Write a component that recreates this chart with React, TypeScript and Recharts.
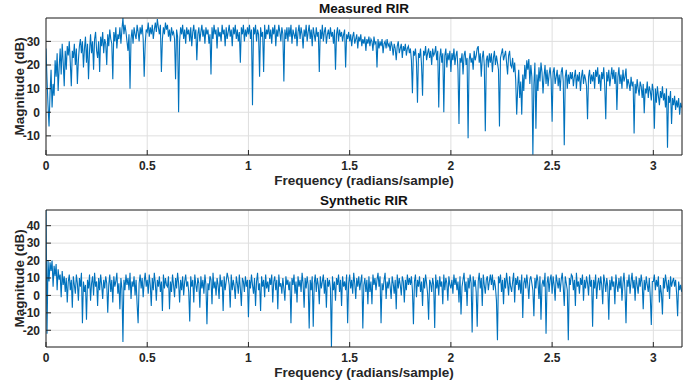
import { CartesianGrid, Line, LineChart, XAxis, YAxis } from 'recharts'

// frequency grid of both responses: 0 .. 3.14 rad/sample, 0.005 apart
const FREQ_STEP = 0.005

// magnitude of the measured room impulse response (dB), one row per 0.1 rad
const measuredDb = [
  27, 14, 3, -6, 8, 18, 2, 12, 7, 22, 15, 25, 9, 19, 27, 16, 29, 21, 11, 26,
  18, 28, 24, 30, 21, 11, 26, 23, 29, 20, 27, 12, 22, 28, 31, 25, 30, 19, 27, 32,
  21, 29, 14, 26, 33, 25, 30, 18, 31, 34, 26, 23, 30, 17, 32, 28, 34, 25, 31, 29,
  20, 33, 28, 35, 31, 29, 14, 34, 30, 36, 27, 33, 31, 36, 29, 35, 39.9, 33, 37, 34,
  30, 26, 33, 10, 31, 35, 29, 36, 33, 31, 37, 34, 30, 36, 33, 37, 31, 15, 29, 35,
  34, 38, 32, 36, 33, 37, 31, 35, 38, 34, 39.5, 36, 33, 37, 17, 31, 36, 33, 38, 35,
  37, 32, 35, 30, 36, 33, 34, 31, 14, 35, 32, 0, 30, 36, 33, 37, 31, 35, 29, 36,
  33, 35, 30, 36, 28, 34, 37, 31, 35, 22, 33, 36, 30, 34, 37, 32, 35, 29, 36, 33,
  35, 29, 33, 16, 36, 31, 37, 33, 35, 27, 36, 32, 34, 30, 37, 33, 35, 28, 36, 31,
  34, 37, 32, 35, 28, 36, 33, 37, 31, 35, 30, 34, 21, 36, 33, 37, 30, 35, 32, 36,
  33, 37, 31, 35, 3, 36, 33, 37, 30, 35, 33, 15, 36, 32, 34, 17, 37, 31, 35, 33,
  37, 31, 35, 29, 36, 33, 37, 28, 35, 32, 37, 34, 30, 36, 33, 13, 35, 31, 36, 30,
  36, 32, 37, 29, 35, 33, 31, 36, 28, 34, 37, 31, 36, 33, 27, 35, 32, 37, 30, 34,
  37, 31, 35, 28, 36, 33, 30, 36, 32, 34, 17, 35, 31, 37, 30, 34, 36, 29, 33, 35,
  31, 36, 32, 34, 29, 35, 18, 33, 36, 30, 35, 32, 34, 30, 33, 35, 19, 33, 31, 34,
  30, 33, 28, 32, 34, 29, 31, 33, 27, 32, 30, 33, 28, 31, 29, 32, 26, 31, 29, 32,
  28, 31, 30, 26, 32, 29, 30, 19, 31, 27, 30, 28, 31, 25, 29, 30, 27, 31, 28, 29,
  26, 30, 28, 24, 29, 27, 22, 28, 30, 25, 27, 29, 23, 28, 26, 29, 24, 27, 28, 25,
  27, 22, 8, 26, 24, 27, 21, 4, 25, 23, 27, 20, 7, 26, 24, 28, 22, 25, 27, 23,
  26, 20, 27, 24, 25, 28, 22, 26, 2, 23, 27, 21, 25, 0, 24, 27, 19, 25, 22, 26,
  17, 25, 22, 27, 20, 24, 26, 18, -5, 23, 21, 25, 16, 24, 26, 20, 23, -11, 22, 25,
  21, 23, 18, 26, 22, 24, 27, 28, 21, 25, 15, 23, 26, 20, -8, 22, 24, 19, 25, 21,
  25, 17, 23, 26, 20, 24, 21, 18, -6, 23, 25, 27, 22, 24, 26, 21, 16, 24, 26, 20,
  19, 23, 17, 21, 14, -1, 10, 18, 6, 13, -1, 16, 9, 20, 14, 22, 18, 22.5, 12, 20,
  15, -18, 12, 21, -7, 16, 9, 19, 13, 21, 17, 8, 15, 20, 12, 18, 11, 16, 19, 14,
  -4, 17, 19, 12, 15, 18, 11, 16, 9, 17, 19, 13, -14, 15, 18, 10, 16, 12, 17, 14,
  17, 11, 15, 18, 10, 16, 13, 17, 9, 15, 18, 12, 16, 14, 11, -3, 15, 18, 12, 16,
  13, 17, 10, 18, 15, 19, 12, 16, 9, 17, 14, 19, 11, -3, 17, 13, 18, 11, 15, 19,
  14, 18, 12, 17, 1, 15, 19, 12, 16, 10, 18, 13, 15, 18.5, 10, 14, 12, 9, 15, 11,
  13, -9, 12, 8, 14, 10, 7, 13, 11, 6, 12, -0.4, 10, 8, 13, 6, 11, 9, 5, 12,
  9, -7, 10, 4, 11, 7, 3, 9, 6, 11, 5, 8, 2, 10, -15, 7, 4, 9, -5, 6,
  3, 7, 1, 5, 2, 6, -1, 4, 2,
]

// magnitude of the synthetic room impulse response (dB), one row per 0.1 rad
const syntheticDb = [
  49, -22, 20, 8, 19, 14, 20, 5, 17, 11, 18, 3, 15, 9, 12, -1, 14, 6, 11, 2,
  10, -4, 8, 12, 3, 9, -7, 11, 6, 1, 12, 7, -3, 10, 5, 13, -16, 8, 2, 6,
  -14, 9, 4, 12, -3, 7, 11, 0, 13, 5, 8, -6, 10, 3, 12, 6, -2, 9, 4, 11,
  7, -10, 6, 12, 2, 9, -4, 11, 5, 8, 13, 1, 7, -8, 10, 4, -26.7, 9, 3, 12,
  6, 10, 3, 13, -2, 8, 5, 11, 0, 9, -5, -16, 7, 12, 4, 10, -1, 8, 13, 5,
  9, 1, 12, 6, -6, 10, 3, 13, 7, -3, 9, 5, 11, 2, 8, -9, 12, 4, 10, 6,
  5, 11, -8, 8, 2, 12, 6, -1, 10, 4, 13, 7, -4, 9, 3, 11, 0, 8, 12, 5,
  8, 2, -15, 11, 5, 9, -4, 12, 6, 2, 10, 7, -7, 11, 4, 9, 1, 12, 6, -16.5,
  7, 3, 11, 9, -5, 13, 4, 8, 0, 10, 6, -2, 12, 5, 9, -9, 11, 3, 8, 13,
  10, 6, -7, 12, 3, 9, 5, -2, 11, 7, 1, 12, 4, -6, 10, 8, 2, 11, 5, 9,
  -12.5, 9, 4, 12, 6, 1, 10, -6, 8, 13, 3, 7, -9, 11, 5, 9, -1, 12, 4, 8,
  2, 10, 6, 12, -4, 8, 11, 3, 9, -8, 12, 5, 7, 1, 10, 4, -3, 11, 6, 9,
  3, 8, -16, 10, 6, 12, 1, 8, -4, 11, 5, 9, 2, 13, 7, -7, 10, 4, 11, 6,
  -19, 9, 3, 11, -18, 7, 12, 2, 10, 6, -5, 11, 4, 8, 12, 1, 9, -7, 10, 5,
  9, 4, -29.6, 11, 3, 8, -3, 10, 6, 12, 2, 9, -6, 11, 5, 8, 3, 12, -16, 7,
  12, 4, 9, 1, 13, 7, -2, 10, 5, 11, 3, 8, 12, -19, 6, 10, 2, 9, -5, 11,
  2, 8, -5, 12, 6, 10, 3, 9, 13, 5, 11, -16, 7, 3, 9, 13, -2, 8, 4, 10,
  5, -2, 11, 7, 1, 9, -8, 12, 4, 10, 6, 0, 11, 8, -4, 9, 3, 12, 6, 10,
  6, 11, 3, -16.5, 8, 12, -1, 9, 5, 11, 2, 8, -6, 10, 4, 12, 7, 1, -14, 9,
  7, 2, 10, 6, -18.7, 12, 4, 9, 0, 11, 5, 8, -5, 12, 3, 10, 7, -3, 11, 6,
  4, 9, 1, 12, 6, 10, 3, 8, -4, 11, -11, 5, 9, 13, 2, 8, -6, 10, 4, 12,
  7, -21.3, 11, 5, 9, 2, -18, 8, 13, 4, 10, -6, 12, 6, 1, 9, 11, 3, 8, 12,
  6, 12, 3, 9, 5, -3, -25.7, 11, 7, 12, 2, 9, -5, 10, 4, 13, 7, 0, 11, 5,
  2, 8, 13, -4, 10, 6, 11, 3, 9, 1, 12, -13, 7, 10, 4, 12, 6, -2, 9, 11,
  7, 3, -12, 10, 4, 12, 8, -2, 11, -14, 6, 9, 5, 13, -22, 7, 11, 2, 9, 12,
  1, 11, 6, -3, 12, 8, 4, 10, 2, 9, 13, 5, -6, 11, 7, 3, -25.7, 10, 6, 12,
  11, 3, 9, -6, 13, 5, 8, 1, 10, 6, 12, -3, 9, 4, 11, 7, 0, 12, 5, 9,
  -18, 9, 4, 12, -2, 7, 10, 3, 11, 6, -5, 12, 8, 2, 10, 5, -14, 9, 3, 11,
  5, 8, -5, 12, 6, 2, 10, 4, 11, -3, 7, 13, 3, -16, 9, 5, 12, 1, 8, 13,
  4, 9, -3, 11, 6, 1, 10, 5, 12, 7, -8, 9, 3, 11, 6, 2, 10, -1, -17, 8,
  8, 12, 3, 9, 5, 11, -4, 6, 1, -11, 10, 4, 12, 7, 2, 9, -2, 11, 5, 8,
  10, 5, 9, 1, -12, 8, 3, 6, 2,
]

const freqTicks = [0, 0.5, 1, 1.5, 2, 2.5, 3]
const measuredTicks = [-10, 0, 10, 20, 30]
const syntheticTicks = [-20, -10, 0, 10, 20, 30, 40]

const FONT = '"Liberation Sans", Arial, Helvetica, sans-serif'
const INK = '#262626'
const LINE = '#0072BD'

function Title({ viewBox, text }: any) {
  return (
    <text x={viewBox.x + viewBox.width / 2} y={viewBox.y + viewBox.height - 5} textAnchor="middle"
      fontFamily={FONT} fontWeight="bold" fontSize={13.5} fill="#111">
      {text}
    </text>
  )
}

function XLabel({ viewBox }: any) {
  return (
    <text x={viewBox.x + viewBox.width / 2} y={viewBox.y + 29.5} textAnchor="middle"
      fontFamily={FONT} fontWeight="bold" fontSize={13.5} fill={INK}>
      Frequency (radians/sample)
    </text>
  )
}

function YLabel({ viewBox }: any) {
  const x = viewBox.x + 19
  const y = viewBox.y + viewBox.height / 2
  return (
    <text x={x} y={y} dy="0.35em" transform={`rotate(-90, ${x}, ${y})`} textAnchor="middle"
      fontFamily={FONT} fontWeight="bold" fontSize={13.5} fill={INK}>
      Magnitude (dB)
    </text>
  )
}

const tickStyle = { fill: INK, fontSize: 12, fontWeight: 'bold', fontFamily: FONT }

function Panel({ title, values, yDomain, yTicks, height, axisHeight }: any) {
  const data = values.map((db: number, i: number) => ({ w: i * FREQ_STEP, db }))
  return (
    <LineChart width={696} height={height} data={data}
      margin={{ top: 17, right: 13, bottom: 0, left: 0 }}>
      <CartesianGrid stroke="#dfdfdf" />
      <XAxis dataKey="w" type="number" domain={[0, Math.PI]} ticks={freqTicks} interval={0}
        allowDataOverflow height={axisHeight} stroke={INK} tickSize={-5} tickMargin={11}
        tick={tickStyle} label={<XLabel />} />
      <XAxis xAxisId="top" orientation="top" type="number" domain={[0, Math.PI]}
        ticks={freqTicks} interval={0} allowDataOverflow height={1} stroke={INK} tickSize={-5}
        tick={false} label={<Title text={title} />} />
      <YAxis type="number" domain={yDomain} ticks={yTicks} interval={0} allowDataOverflow
        width={46} stroke={INK} tickSize={-5} tickMargin={11} tick={tickStyle}
        label={<YLabel />} />
      <YAxis yAxisId="right" orientation="right" type="number" domain={yDomain}
        ticks={yTicks} interval={0} allowDataOverflow width={1} stroke={INK} tickSize={-5}
        tick={false} />
      <Line dataKey="db" type="linear" stroke={LINE} strokeWidth={1.1} dot={false}
        isAnimationActive={false} />
    </LineChart>
  )
}

export default function App() {
  return (
    <div style={{ position: 'absolute', left: 0, top: 0, width: 696, height: 385, background: '#fff' }}>
      <div style={{ position: 'absolute', left: 0, top: 0 }}>
        <Panel title="Measured RIR" values={measuredDb} yDomain={[-18.1, 39.9]}
          yTicks={measuredTicks} height={192} axisHeight={37} />
      </div>
      <div style={{ position: 'absolute', left: 0, top: 192 }}>
        <Panel title="Synthetic RIR" values={syntheticDb} yDomain={[-29.6, 49]}
          yTicks={syntheticTicks} height={193} axisHeight={38} />
      </div>
    </div>
  )
}
